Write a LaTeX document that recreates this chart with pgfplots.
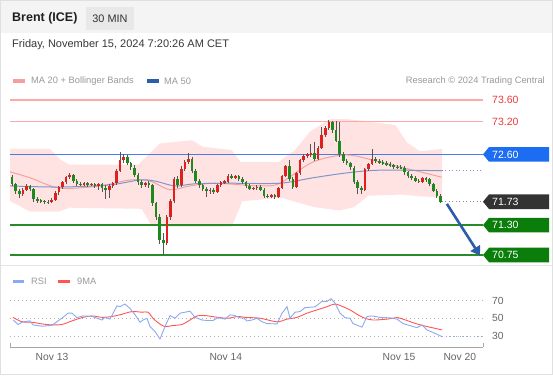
\documentclass[border=0pt]{standalone}
\usepackage{fontspec}
\setmainfont{Liberation Sans}
\usepackage{pgfplots}
\pgfplotsset{compat=1.18}
\usepackage{pgfplotstable}
\usetikzlibrary{arrows.meta}
\definecolor{cgreen}{HTML}{1E8A1E}
\definecolor{cred}{HTML}{E0201C}
\definecolor{cwick}{HTML}{555555}
\definecolor{band}{HTML}{FFE3E3}
\definecolor{ma20}{HTML}{F5A0A0}
\definecolor{ma50}{HTML}{7F96C9}
\definecolor{resline}{HTML}{FFA8A8}
\definecolor{reslbl}{HTML}{F03A3A}
\definecolor{pivot}{HTML}{4A7BE8}
\definecolor{pivottag}{HTML}{1C6DF2}
\definecolor{suptag}{HTML}{0B7D0B}
\definecolor{supline}{HTML}{2A8A2A}
\definecolor{lasttag}{HTML}{333333}
\definecolor{arrowc}{HTML}{2C5DA8}
\definecolor{rsic}{HTML}{8CA9F2}
\definecolor{mac}{HTML}{FF5555}
\definecolor{lgray}{HTML}{999999}
\definecolor{tgray}{HTML}{666666}
\definecolor{hdrbg}{HTML}{F4F4F4}
\newcommand\fs[1]{\fontsize{#1}{#1}\selectfont}

\pgfplotstableread{
i o h l c
0 72.18 72.22 72.02 72.06
1 72.06 72.08 71.88 71.92
2 71.92 71.96 71.80 71.88
3 71.88 71.98 71.84 71.95
4 71.95 72.05 71.92 72.02
5 72.02 72.04 71.92 71.96
6 71.96 71.99 71.72 71.78
7 71.78 71.82 71.70 71.75
8 71.75 71.78 71.70 71.74
9 71.74 71.77 71.69 71.73
10 71.73 71.76 71.68 71.72
11 71.72 71.80 71.70 71.77
12 71.77 71.93 71.75 71.90
13 71.90 72.02 71.86 72.00
14 72.00 72.12 71.97 72.10
15 72.10 72.20 72.06 72.18
16 72.18 72.26 72.14 72.22
17 72.22 72.24 72.08 72.12
18 72.12 72.14 72.02 72.06
19 72.06 72.09 72.02 72.05
20 72.05 72.09 72.02 72.07
21 72.07 72.09 72.01 72.05
22 72.05 72.08 72.02 72.06
23 72.06 72.08 71.98 72.03
24 72.03 72.07 71.95 72.05
25 72.05 72.08 71.90 71.99
26 71.99 72.03 71.78 71.95
27 71.95 72.05 71.80 72.02
28 72.02 72.10 71.98 72.07
29 72.07 72.34 72.04 72.30
30 72.30 72.64 72.28 72.50
31 72.50 72.60 72.44 72.55
32 72.55 72.58 72.40 72.44
33 72.44 72.47 72.32 72.36
34 72.36 72.40 72.18 72.22
35 72.22 72.25 72.04 72.10
36 72.10 72.13 71.98 72.04
37 72.04 72.10 72.01 72.08
38 72.08 72.12 71.98 72.03
39 72.03 72.05 71.66 71.70
40 71.70 71.73 71.40 71.45
41 71.45 71.50 70.95 71.02
42 71.02 71.15 70.75 70.98
43 70.98 71.48 70.94 71.45
44 71.45 71.78 71.40 71.75
45 71.75 72.18 71.70 72.15
46 72.15 72.20 71.98 72.04
47 72.04 72.38 72.00 72.34
48 72.34 72.50 72.30 72.46
49 72.46 72.63 72.42 72.52
50 72.52 72.56 72.26 72.30
51 72.30 72.34 72.08 72.12
52 72.12 72.15 71.98 72.03
53 72.03 72.06 71.92 71.97
54 71.97 72.00 71.82 71.93
55 71.93 71.98 71.88 71.95
56 71.95 71.98 71.87 71.91
57 71.91 72.06 71.89 72.04
58 72.04 72.12 72.00 72.09
59 72.09 72.13 72.05 72.10
60 72.10 72.24 72.08 72.20
61 72.20 72.24 72.14 72.17
62 72.17 72.23 72.14 72.20
63 72.20 72.23 72.12 72.15
64 72.15 72.18 72.06 72.09
65 72.09 72.12 71.98 72.02
66 72.02 72.05 71.94 71.97
67 71.97 72.01 71.94 71.98
68 71.98 72.04 71.95 72.01
69 72.01 72.03 71.92 71.95
70 71.95 71.98 71.80 71.84
71 71.84 71.87 71.80 71.83
72 71.83 71.87 71.80 71.85
73 71.85 71.87 71.79 71.82
74 71.82 72.00 71.80 71.98
75 71.98 72.22 71.96 72.20
76 72.20 72.40 72.18 72.38
77 72.38 72.50 72.12 72.15
78 72.15 72.18 71.96 72.00
79 72.00 72.28 71.98 72.25
80 72.25 72.52 72.22 72.50
81 72.50 72.60 72.46 72.57
82 72.57 72.63 72.54 72.60
83 72.60 72.80 72.56 72.62
84 72.62 72.82 72.48 72.52
85 72.52 72.76 72.50 72.72
86 72.72 73.10 72.70 72.95
87 72.95 73.12 72.92 73.08
88 73.08 73.24 73.04 73.19
89 73.19 73.22 73.00 73.05
90 73.05 73.22 72.82 72.85
91 72.85 73.20 72.55 72.60
92 72.60 72.64 72.44 72.48
93 72.48 72.52 72.40 72.44
94 72.44 72.47 72.32 72.36
95 72.36 72.39 72.06 72.10
96 72.10 72.13 71.88 71.98
97 71.98 72.02 71.88 71.94
98 71.94 72.36 71.92 72.33
99 72.33 72.45 72.30 72.42
100 72.42 72.70 72.40 72.52
101 72.52 72.56 72.44 72.48
102 72.48 72.52 72.42 72.45
103 72.45 72.49 72.41 72.44
104 72.44 72.48 72.38 72.42
105 72.42 72.46 72.37 72.40
106 72.40 72.43 72.34 72.37
107 72.37 72.40 72.33 72.36
108 72.36 72.40 72.33 72.36
109 72.36 72.39 72.23 72.27
110 72.27 72.30 72.17 72.21
111 72.21 72.24 72.13 72.17
112 72.17 72.20 72.09 72.12
113 72.12 72.15 72.07 72.10
114 72.10 72.19 72.08 72.16
115 72.16 72.19 72.10 72.14
116 72.14 72.17 72.02 72.05
117 72.05 72.08 71.90 71.93
118 71.93 71.96 71.80 71.84
119 71.84 71.87 71.70 71.73
}\candles

\pgfplotstableread{
lvl
73.60
73.20
}\resistances

\begin{document}
\begin{tikzpicture}
\path[use as bounding box] (0,0) rectangle (553pt,-375pt);
\fill[white] (0,0) rectangle (553pt,-375pt);
\fill[hdrbg] (0,0) rectangle (553pt,-33pt);
\draw[black!10] (0,-265pt) -- (553pt,-265pt);
\draw[black!12] (0.4pt,-0.4pt) rectangle (552.6pt,-374.6pt);
\fill[black!9] (86pt,-7pt) rectangle (134pt,-30pt);
\node[anchor=west,inner sep=0pt,font=\bfseries\fs{12.5},text=black!88] at (12pt,-18.5pt) {Brent (ICE)};
\node[inner sep=0pt,font=\fs{10.9},text=black!80] at (110pt,-18.5pt) {30 MIN};
\node[anchor=west,inner sep=0pt,font=\fs{11},text=black!78] at (12pt,-45pt) {Friday, November 15, 2024 7:20:26 AM CET};
% price legend
\fill[ma20] (13pt,-79pt) rectangle (25pt,-83pt);
\node[anchor=west,inner sep=0pt,font=\fs{9.3},text=lgray] at (31pt,-81pt) {MA 20 + Bollinger Bands};
\fill[arrowc] (147pt,-79pt) rectangle (159pt,-83pt);
\node[anchor=west,inner sep=0pt,font=\fs{9.3},text=lgray] at (164pt,-81pt) {MA 50};
\node[anchor=east,inner sep=0pt,font=\fs{9.3},text=lgray] at (545pt,-81pt) {Research © 2024 Trading Central};
% rsi legend
\fill[rsic] (13pt,-279.5pt) rectangle (23.5pt,-283pt);
\node[anchor=west,inner sep=0pt,font=\fs{9.3},text=lgray] at (31pt,-281pt) {RSI};
\fill[mac] (58pt,-279.5pt) rectangle (70pt,-283pt);
\node[anchor=west,inner sep=0pt,font=\fs{9.3},text=lgray] at (77pt,-281pt) {9MA};

\begin{axis}[at={(10pt,-262.1pt)}, anchor=south west, scale only axis,
  width=473pt, height=174.08pt, xmin=-0.556, xmax=130.83, ymin=70.62, ymax=73.82,
  hide axis, clip=false]
% Bollinger band
\addplot[fill=band, draw=none] coordinates {
(-0.5,72.70)(10.5,72.70)(13.5,72.50)(16,72.41)(35,72.41)(38,72.60)(41,72.80)(50,72.86)(53,72.74)(61,72.68)(63.5,72.46)(74,72.46)(78.6,72.68)(82.8,73.02)(88.3,73.25)(93,73.25)(99.4,73.20)(106.5,73.14)(109.7,72.82)(113.3,72.66)(119.5,72.70)
(119.5,71.80)(108,71.86)(99,71.84)(95,71.63)(91,71.57)(84,71.63)(75,71.80)(64,71.74)(61,71.27)(41,71.27)(38.5,71.32)(36,71.60)(16,71.62)(13,71.55)(5,71.55)(-0.5,71.74)};
% resistance levels as horizontal error bars spanning the plot
\addplot[draw=none, forget plot, error bars/.cd, x dir=both, x explicit, error mark=none,
  error bar style={draw=resline, line width=1.4pt, solid}]
  table[x expr=65.137, y=lvl, x error expr=65.693] {\resistances};
\addplot[draw=pivot, line width=1.2pt] coordinates {(-0.556,72.60)(130.83,72.60)};
\addplot[draw=supline, line width=1.8pt] coordinates {(-0.556,71.30)(130.83,71.30)};
\addplot[draw=supline, line width=1.8pt] coordinates {(-0.556,70.75)(130.83,70.75)};
% moving averages
\addplot[ma20, line width=1pt, smooth] coordinates {
(-0.5,72.28)(5,72.17)(13.3,71.98)(24.4,72.02)(32.8,72.13)(38.3,72.11)(43.9,71.95)(49.4,72.02)(56.4,72.07)(68.9,72.02)(74.4,72.07)(83.6,72.46)(93,72.59)(102.2,72.46)(113.3,72.28)(119.4,72.18)};
\addplot[ma50, line width=1pt, smooth] coordinates {
(-0.5,72.02)(13.3,72.00)(27.2,72.04)(35.5,72.13)(39.7,72.11)(45.3,72.02)(50.8,72.06)(60.5,72.07)(74.4,72.07)(83.6,72.17)(93,72.26)(102.2,72.31)(119.4,72.30)};
\addplot[ma50, line width=0.9pt, dash pattern=on 1pt off 2.5pt] coordinates {(119.4,72.30)(130.83,72.30)};
\addplot[black!45, line width=0.9pt, dash pattern=on 1pt off 2.5pt] coordinates {(119.4,71.73)(130.83,71.73)};
% candles: wicks
\addplot[draw=none, forget plot, error bars/.cd, y dir=both, y explicit, error mark=none,
  error bar style={draw=cwick, line width=0.7pt, solid}]
  table[x=i, y expr={(\thisrow{h}+\thisrow{l})/2}, y error expr={(\thisrow{h}-\thisrow{l})/2}] {\candles};
% candles: up bodies
\addplot[draw=none, forget plot, restrict expr to domain={\thisrow{c}-\thisrow{o}}{0.00001:10},
  error bars/.cd, y dir=both, y explicit, error mark=none,
  error bar style={draw=cred, line width=2.6pt, solid}]
  table[x=i, y expr={(\thisrow{o}+\thisrow{c})/2}, y error expr={max(abs(\thisrow{c}-\thisrow{o})/2,0.01)}] {\candles};
% candles: down bodies
\addplot[draw=none, forget plot, restrict expr to domain={\thisrow{c}-\thisrow{o}}{-10:0},
  error bars/.cd, y dir=both, y explicit, error mark=none,
  error bar style={draw=cgreen, line width=2.6pt, solid}]
  table[x=i, y expr={(\thisrow{o}+\thisrow{c})/2}, y error expr={max(abs(\thisrow{c}-\thisrow{o})/2,0.01)}] {\candles};
% arrow
\draw[arrowc, line width=2.6pt, -{Triangle[length=9pt,width=11pt]}] (axis cs:120.8,71.69) -- (axis cs:130.0,70.74);
% labels
\node[anchor=west,inner sep=0pt,font=\fs{10.5},text=reslbl] at ([xshift=9pt]axis cs:130.83,73.60) {73.60};
\node[anchor=west,inner sep=0pt,font=\fs{10.5},text=reslbl] at ([xshift=9pt]axis cs:130.83,73.20) {73.20};
\fill[pivottag] (axis cs:130.83,72.60) -- ++(6pt,7.3pt) -- ++(60pt,0pt) -- ++(0pt,-14.6pt) -- ++(-60pt,0pt) -- cycle;
\node[anchor=west,inner sep=0pt,font=\fs{10.5},text=white] at ([xshift=9pt]axis cs:130.83,72.60) {72.60};
\fill[lasttag] (axis cs:130.83,71.73) -- ++(6pt,7.3pt) -- ++(60pt,0pt) -- ++(0pt,-14.6pt) -- ++(-60pt,0pt) -- cycle;
\node[anchor=west,inner sep=0pt,font=\fs{10.5},text=white] at ([xshift=9pt]axis cs:130.83,71.73) {71.73};
\fill[suptag] (axis cs:130.83,71.30) -- ++(6pt,7.3pt) -- ++(60pt,0pt) -- ++(0pt,-14.6pt) -- ++(-60pt,0pt) -- cycle;
\node[anchor=west,inner sep=0pt,font=\fs{10.5},text=white] at ([xshift=9pt]axis cs:130.83,71.30) {71.30};
\fill[suptag] (axis cs:130.83,70.75) -- ++(6pt,7.3pt) -- ++(60pt,0pt) -- ++(0pt,-14.6pt) -- ++(-60pt,0pt) -- cycle;
\node[anchor=west,inner sep=0pt,font=\fs{10.5},text=white] at ([xshift=9pt]axis cs:130.83,70.75) {70.75};
\end{axis}

\begin{axis}[at={(10pt,-347pt)}, anchor=south west, scale only axis,
  width=473pt, height=57pt, xmin=-0.556, xmax=130.83, ymin=17.6, ymax=81.8,
  axis x line=bottom, axis y line=none, x axis line style={-, draw=black!35, line width=0.9pt},
  xtick={11.1,59.4,107.5,124.4}, xticklabels={Nov 13,Nov 14,Nov 15,Nov 20},
  major tick length=0pt, xticklabel style={font=\fs{10.3}, text=tgray, yshift=-3pt},
  ytick=\empty, clip=false]
\addplot[black!30, line width=0.9pt, dash pattern=on 1pt off 3pt] coordinates {(-0.556,70)(130.83,70)};
\addplot[black!30, line width=0.9pt, dash pattern=on 1pt off 3pt] coordinates {(-0.556,50)(130.83,50)};
\addplot[black!30, line width=0.9pt, dash pattern=on 1pt off 3pt] coordinates {(-0.556,30)(130.83,30)};
\addplot[mac, line width=0.9pt, smooth] coordinates {
(0.28,51)(2.78,46)(5.56,45.5)(8.33,43.6)(11.11,42.5)(13.89,43)(16.67,47)(19.44,50.7)(22.22,52.6)(25,51)(27.78,52)(30.56,54.5)(33.33,57.5)(36.11,56.8)(37.78,56.8)(39.17,50)(40.56,45)(42.5,40.6)(44.44,41.7)(47.22,43)(49.44,48)(51.39,52.6)(53.61,53)(57.22,51)(60,50)(62.78,52)(64.72,51)(68.89,50)(73.61,46)(76.39,49)(79.17,51)(81.94,55.7)(84.72,59.4)(87.5,63)(89.72,66)(91.94,63)(93.89,59.4)(96.11,53.8)(98.06,50)(100.28,48)(104.17,49)(106.94,50.7)(108.61,49)(111.39,45)(114.17,41.7)(116.67,39.4)(119.44,36.8)};
\addplot[rsic, line width=0.9pt] coordinates {
(0.36,48)(1.67,43)(3.06,46)(5,47)(5.83,42.5)(8.33,41)(11.11,42)(12.78,47)(14.17,51)(15.56,55.7)(16.67,55.7)(18.06,50.7)(19.72,52.6)(22.22,52)(23.61,50)(25,48)(25.83,51)(27.22,49)(29.17,64)(30,63)(31.39,66)(32.78,61)(34.17,54)(35.56,45.5)(36.39,48)(37.5,50)(38.33,40.6)(39.72,35)(41.11,26.6)(42.5,40.6)(43.89,53)(45.28,50)(46.67,55.7)(48.06,56.8)(49.44,58)(50.83,51)(52.78,48)(54.44,47.4)(55.83,47.4)(57.22,50.7)(59.17,49)(60.56,53.8)(61.94,53)(63.33,50.5)(64.4,50)(65.28,47)(66.67,48)(68.06,50)(69.44,46)(70.83,44)(73.61,43.6)(75,55.7)(76.39,63)(77.22,50)(78.61,56.8)(80,57.5)(81.39,62)(84.17,62.8)(86.11,69)(87.5,69)(88.61,72)(89.72,67)(91.11,55.7)(92.5,50.7)(93.89,50)(94.72,44)(96.11,41.7)(97.22,40)(98.61,52)(100,52.6)(102.22,51)(105,50.4)(106.94,49)(108.61,44)(110.56,41.7)(112.5,39.4)(113.89,42.5)(115.28,36.8)(116.94,34)(119.44,29.3)};
\addplot[rsic, line width=0.9pt, dash pattern=on 1pt off 2.5pt] coordinates {(119.44,29.3)(130.83,29.3)};
\draw[black!35, line width=0.9pt] (axis cs:-0.556,17.6) -- ++(0pt,4pt);
\draw[black!35, line width=0.9pt] (axis cs:130.83,17.6) -- ++(0pt,4pt);
\node[anchor=west,inner sep=0pt,font=\fs{10.3},text=tgray] at ([xshift=9pt]axis cs:130.83,70) {70};
\node[anchor=west,inner sep=0pt,font=\fs{10.3},text=tgray] at ([xshift=9pt]axis cs:130.83,50) {50};
\node[anchor=west,inner sep=0pt,font=\fs{10.3},text=tgray] at ([xshift=9pt]axis cs:130.83,30) {30};
\end{axis}
\end{tikzpicture}
\end{document}
